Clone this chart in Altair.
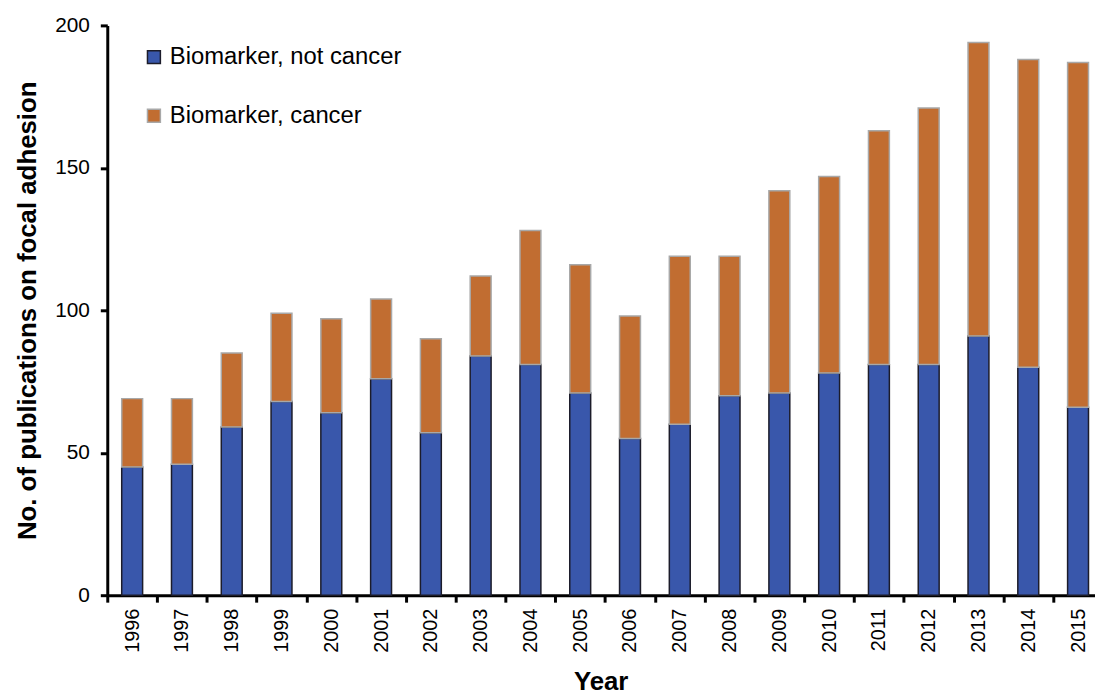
import altair as alt
import pandas as pd

years = ["1996", "1997", "1998", "1999", "2000", "2001", "2002", "2003", "2004", "2005",
         "2006", "2007", "2008", "2009", "2010", "2011", "2012", "2013", "2014", "2015"]
not_cancer = [45, 46, 59, 68, 64, 76, 57, 84, 81, 71, 55, 60, 70, 71, 78, 81, 81, 91, 80, 66]
cancer = [24, 23, 26, 31, 33, 28, 33, 28, 47, 45, 43, 59, 49, 71, 69, 82, 90, 103, 108, 121]
series_names = ["Biomarker, not cancer", "Biomarker, cancer"]
fill_colors = ["#3957ab", "#c16d31"]
stroke_colors = ["#1c1c2a", "#a8a8a8"]
y_ticks = [0, 50, 100, 150, 200]

rows = []
for i, yr in enumerate(years):
    rows.append({"Year": yr, "Series": series_names[0], "Value": not_cancer[i], "ord": 0})
    rows.append({"Year": yr, "Series": series_names[1], "Value": cancer[i], "ord": 1})
df = pd.DataFrame(rows)

FONT = "Liberation Sans"

legend = alt.Legend(
    title=None, orient="none", legendX=35, legendY=20, labelFontSize=24,
    labelFont=FONT, labelColor="black", labelLimit=0, symbolType="square", symbolSize=169,
    symbolStrokeWidth=1.5, rowPadding=35, labelOffset=4, padding=0,
)

chart = alt.Chart(df).mark_bar(width=alt.RelativeBandSize(0.42), strokeWidth=1.5).encode(
    x=alt.X("Year:N", sort=years,
            scale=alt.Scale(paddingInner=0, paddingOuter=0, range=[0, 1003]),
            axis=alt.Axis(title="Year", labelAngle=-90, tickBand="extent",
                          labelFontSize=20, labelPadding=6, titlePadding=16, titleX=497)),
    y=alt.Y("Value:Q", stack="zero",
            scale=alt.Scale(domain=[0, 200], nice=False),
            axis=alt.Axis(title="No. of publications on focal adhesion", values=y_ticks,
                          labelFontSize=21, labelPadding=11, titlePadding=14)),
    color=alt.Color("Series:N", scale=alt.Scale(domain=series_names, range=fill_colors), legend=legend),
    stroke=alt.Stroke("Series:N", scale=alt.Scale(domain=series_names, range=stroke_colors), legend=legend),
    order=alt.Order("ord:Q", sort="ascending"),
).properties(
    width=995, height=574,
    autosize=alt.AutoSizeParams(type="none"),
    padding={"left": 100, "top": 15, "right": 0, "bottom": 98},
).configure_view(stroke=None).configure_axis(
    grid=False, domainColor="black", domainWidth=3, tickColor="black", tickWidth=3,
    tickSize=7, labelFont=FONT, titleFont=FONT, labelColor="black", titleColor="black",
    titleFontSize=26, titleFontWeight="bold",
)

chart.save("out.html", embed_options={"renderer": "svg", "actions": False})
